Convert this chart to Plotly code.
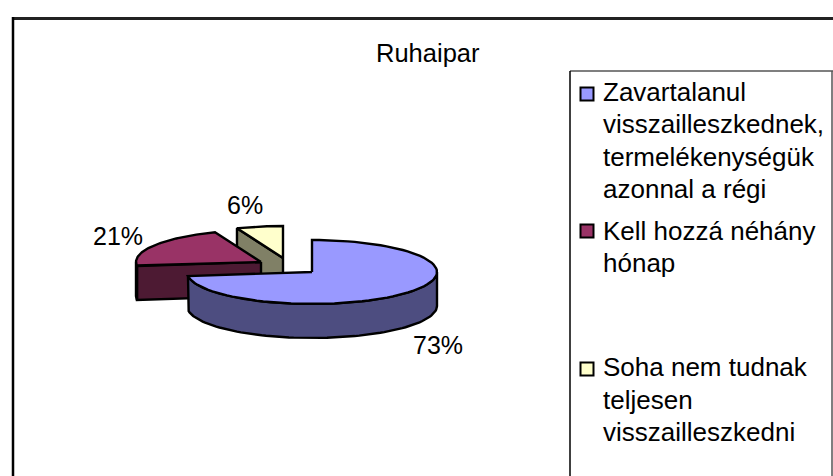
import numpy as np
import plotly.graph_objects as go

# ---- data ----
TITLE = "Ruhaipar"
categories = [
    "Zavartalanul visszailleszkednek, termelékenységük azonnal a régi",
    "Kell hozzá néhány hónap",
    "Soha nem tudnak teljesen visszailleszkedni",
]
values = [73, 21, 6]
legend_lines = [
    ["Zavartalanul", "visszailleszkednek,", "termelékenységük", "azonnal a régi"],
    ["Kell hozzá néhány", "hónap"],
    ["Soha nem tudnak", "teljesen", "visszailleszkedni"],
]
top_colors = ["#9999FF", "#993366", "#FFFFCC"]
wall_colors = ["#4D4D80", "#4D1A33", "#808066"]

# ---- layout constants (pixels of the 833x476 canvas) ----
W, H = 833, 476
RX, RY, DEPTH = 125, 32, 34
CENTERS = [(312, 272), (261, 262), (283, 258)]
LABEL_POS = [(438, 345), (118, 236), (245, 205)]
LEGEND_Y = [[92, 124, 157, 189], [231, 263], [367, 400, 432]]
SWATCH_Y = [94, 231, 369]
FONT = "Liberation Sans, Arial, sans-serif"
FS_TITLE, FS_LABEL, FS_LEGEND = 25.5, 25, 26


fracs = np.array(values, dtype=float) / sum(values)
ends = np.cumsum(fracs) * 2 * np.pi
starts = ends - fracs * 2 * np.pi


def rim(c, a0, a1, n=80, dz=0):
    t = np.linspace(a0, a1, n)
    return c[0] + RX * np.sin(t), c[1] - RY * np.cos(t) + dz


def poly(fig, xs, ys, color, name):
    fig.add_trace(go.Scatter(
        x=np.append(xs, xs[0]), y=np.append(ys, ys[0]), mode="lines", fill="toself",
        fillcolor=color, line=dict(color="black", width=2.4), showlegend=False,
        hoverinfo="skip", name=name))


fig = go.Figure()

# back to front: yellow, red, blue
for i in [2, 1, 0]:
    c, a0, a1 = CENTERS[i], starts[i], ends[i]
    # straight cut wall at the start edge of the slice, when it faces the viewer
    if i in (1, 2):
        sx, sy = rim(c, a0, a0, 1)
        xs = np.array([c[0], sx[0], sx[0], c[0]])
        ys = np.array([c[1], sy[0], sy[0] + DEPTH, c[1] + DEPTH])
        poly(fig, xs, ys, wall_colors[i], categories[i])
    # outer curved wall: the part of the rim on the front half
    w0, w1 = max(a0, np.pi / 2), min(a1, 3 * np.pi / 2)
    if w1 > w0:
        x1, y1 = rim(c, w0, w1)
        x2, y2 = rim(c, w1, w0, dz=DEPTH)
        poly(fig, np.concatenate([x1, x2]), np.concatenate([y1, y2]), wall_colors[i], categories[i])
    # top face
    x, y = rim(c, a0, a1)
    poly(fig, np.concatenate([[c[0]], x]), np.concatenate([[c[1]], y]), top_colors[i], categories[i])

# legend swatches
for i, cat in enumerate(categories):
    fig.add_trace(go.Scatter(
        x=[587], y=[SWATCH_Y[i]], mode="markers", showlegend=False, hoverinfo="skip", name=cat,
        marker=dict(symbol="square", size=13, color=top_colors[i], line=dict(color="black", width=2))))

ann = [dict(x=428, y=53, text=TITLE, xanchor="center", yanchor="middle", fs=FS_TITLE)]
for v, (lx, ly) in zip(values, LABEL_POS):
    ann.append(dict(x=lx, y=ly, text=f"{v}%", xanchor="center", yanchor="middle", fs=FS_LABEL))
for lines, ys in zip(legend_lines, LEGEND_Y):
    for t, ly in zip(lines, ys):
        ann.append(dict(x=603, y=ly, text=t, xanchor="left", yanchor="middle", fs=FS_LEGEND))
for a in ann:
    size = a.pop("fs")
    a.update(showarrow=False, xref="x", yref="y", borderpad=0, borderwidth=0,
             font=dict(family=FONT, size=size, color="black"))

shapes = [
    dict(type="line", x0=13, x1=W, y0=18.5, y1=18.5, line=dict(color="#222222", width=3)),
    dict(type="line", x0=13, x1=13, y0=17, y1=H, line=dict(color="black", width=2.5)),
    dict(type="line", x0=570, x1=W, y0=71, y1=71, line=dict(color="#555555", width=1.5)),
    dict(type="line", x0=570, x1=570, y0=71, y1=H, line=dict(color="black", width=1.5)),
    dict(type="line", x0=832, x1=832, y0=71, y1=H, line=dict(color="#555555", width=1.5)),
]

fig.update_layout(
    width=W, height=H, autosize=False, margin=dict(l=0, r=0, t=0, b=0),
    paper_bgcolor="white", plot_bgcolor="white", showlegend=False,
    xaxis=dict(range=[0, W], visible=False, fixedrange=True),
    yaxis=dict(range=[H, 0], visible=False, fixedrange=True),
    annotations=ann, shapes=shapes,
)
fig.write_html("out.html", config={"displayModeBar": False},
               post_script="document.body.style.margin='0';document.body.style.overflow='hidden';")
